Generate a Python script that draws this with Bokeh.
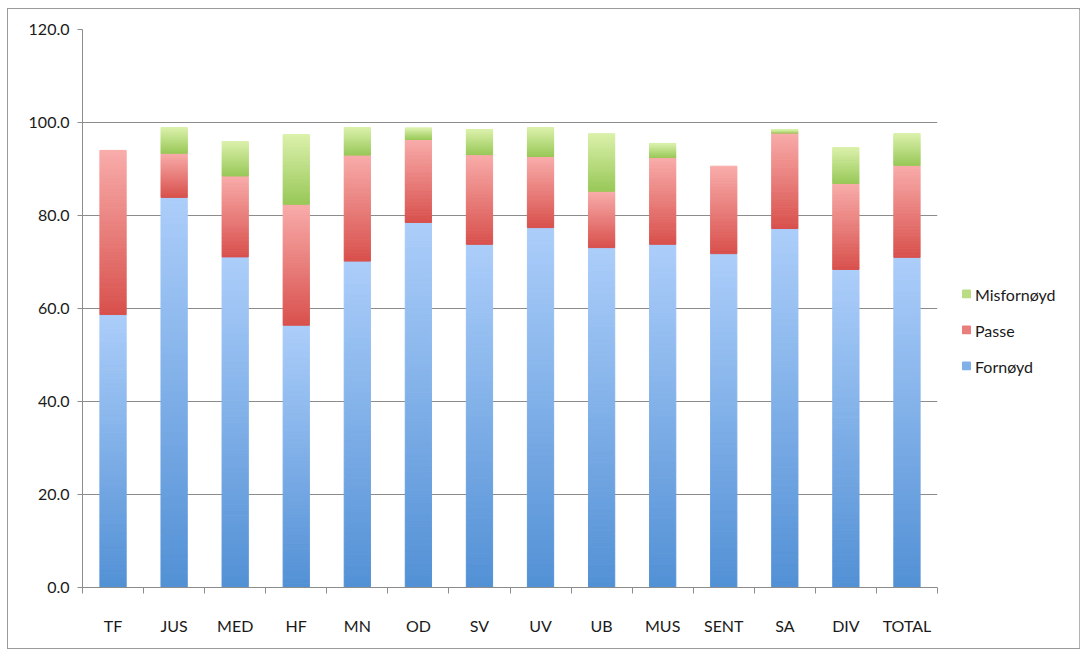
import numpy as np
from bokeh.plotting import figure
from bokeh.models import (ColumnDataSource, FixedTicker, Legend, LegendItem,
                          Range1d, NumeralTickFormatter)
from bokeh.embed import file_html
from bokeh.resources import INLINE

categories = ["TF", "JUS", "MED", "HF", "MN", "OD", "SV", "UV", "UB", "MUS",
              "SENT", "SA", "DIV", "TOTAL"]
fornoyd = [58.7, 83.9, 71.1, 56.4, 70.2, 78.5, 73.8, 77.4, 73.1, 73.8, 71.8, 77.2, 68.4, 71.0]
passe = [35.3, 9.5, 17.4, 26.0, 22.8, 17.9, 19.3, 15.3, 12.1, 18.7, 18.8, 20.6, 18.5, 19.8]
misfornoyd = [0.0, 5.5, 7.4, 15.0, 5.9, 2.4, 5.4, 6.2, 12.4, 3.0, 0.0, 0.7, 7.7, 6.8]
series_names = ["Fornøyd", "Passe", "Misfornøyd"]
yticks = [0, 20, 40, 60, 80, 100, 120]

# gradient colours (bottom, top) per series
grad = {
    "Fornøyd": ((82, 144, 213), (172, 206, 250)),
    "Passe": ((216, 80, 76), (248, 172, 170)),
    "Misfornøyd": ((152, 200, 88), (218, 240, 170)),
}
NSL = 60

FONT = "Lato"
p = figure(frame_width=855, frame_height=558, output_backend="svg", toolbar_location=None,
           x_range=Range1d(0, len(categories)), y_range=Range1d(0, 120),
           min_border_left=74, min_border_right=0, min_border_top=20,
           min_border_bottom=61, outline_line_color=None)
p.margin = (9, 0, 0, 8)
p.styles = {"outline": "1.5px solid #9a9a9a", "width": "1071px"}

xc = np.arange(len(categories)) + 0.5
bottoms = np.zeros(len(categories))
renderers = {}
for name, vals in zip(series_names, [fornoyd, passe, misfornoyd]):
    vals = np.array(vals, dtype=float)
    c0, c1 = np.array(grad[name][0]), np.array(grad[name][1])
    xs, bs, ts, cols = [], [], [], []
    for i in range(len(categories)):
        if vals[i] <= 0:
            continue
        for k in range(NSL):
            t = (k + 0.5) / NSL
            c = c0 + (c1 - c0) * t
            xs.append(xc[i])
            bs.append(bottoms[i] + vals[i] * k / NSL)
            ts.append(bottoms[i] + vals[i] * (k + 1) / NSL)
            cols.append("#%02x%02x%02x" % tuple(int(round(v)) for v in c))
    src = ColumnDataSource(dict(x=xs, bottom=bs, top=ts, color=cols))
    r = p.vbar(x="x", bottom="bottom", top="top", width=0.43, source=src,
               fill_color="color", line_color="color", line_width=1)
    renderers[name] = (r, NSL // 2)
    bottoms = bottoms + vals

# axes
p.xgrid.visible = False
p.ygrid.grid_line_color = "#8c8c8c"
p.ygrid.grid_line_width = 1
p.ygrid.ticker = FixedTicker(ticks=yticks)

p.yaxis.ticker = FixedTicker(ticks=yticks)
p.yaxis.formatter = NumeralTickFormatter(format="0.0")
p.yaxis.axis_line_color = "#8c8c8c"
p.yaxis.major_tick_line_color = "#8c8c8c"
p.yaxis.major_tick_out = 5
p.yaxis.major_tick_in = 0
p.yaxis.minor_tick_line_color = None
p.yaxis.major_label_standoff = 8
p.yaxis.major_label_text_font = FONT
p.yaxis.major_label_text_font_size = "16px"
p.yaxis.major_label_text_color = "#1a1a1a"

p.xaxis.ticker = FixedTicker(ticks=list(xc), minor_ticks=list(range(len(categories) + 1)))
p.xaxis.major_label_overrides = {float(x): c for x, c in zip(xc, categories)}
p.xaxis.axis_line_color = "#8c8c8c"
p.xaxis.major_tick_line_color = None
p.xaxis.minor_tick_line_color = "#8c8c8c"
p.xaxis.minor_tick_out = 6
p.xaxis.minor_tick_in = 0
p.xaxis.major_label_standoff = 22
p.xaxis.major_label_text_font = FONT
p.xaxis.major_label_text_font_size = "16px"
p.xaxis.major_label_text_color = "#1a1a1a"

items = []
for name in ["Misfornøyd", "Passe", "Fornøyd"]:
    r, idx = renderers[name]
    items.append(LegendItem(label=name, renderers=[r], index=idx))
legend = Legend(items=items, location="center_left", border_line_color=None,
                background_fill_alpha=0, padding=0, margin=24, spacing=16,
                glyph_width=10, glyph_height=10, label_height=20,
                label_standoff=4, label_text_font=FONT,
                label_text_font_size="16px", label_text_color="#1a1a1a",
                title=" ", title_text_font_size="14px", title_standoff=27)
p.add_layout(legend, "right")

open("out.html", "w").write(file_html(p, INLINE))
